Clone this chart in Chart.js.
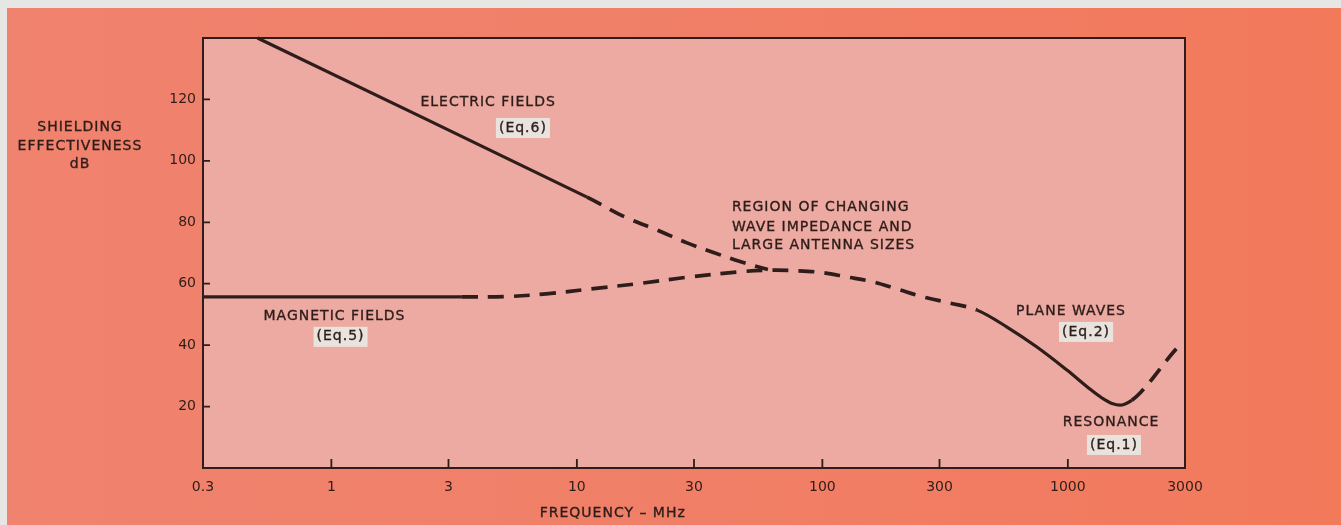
<!DOCTYPE html>
<html>
<head>
<meta charset="utf-8">
<script src="https://cdn.jsdelivr.net/npm/chart.js@4"></script>
<style>
  html, body { margin: 0; padding: 0; background: #e6e6e4; overflow: hidden; }
  #wrap { position: absolute; left: 7px; top: 8px; width: 1334px; height: 517px;
          background: linear-gradient(90deg, #f0836f 0%, #f07f67 50%, #f3795b 100%); }
  canvas { display: block; }
</style>
</head>
<body>
<div id="wrap"><canvas id="c" width="1334" height="517"></canvas></div>
<script>
// ---- tick labels ----
const xTickValues = [0.3, 1, 3, 10, 30, 100, 300, 1000, 3000];
const xTickLabels = ["0.3", "1", "3", "10", "30", "100", "300", "1000", "3000"];
const yTickValues = [20, 40, 60, 80, 100, 120];

// ---- curves (frequency MHz, shielding dB) ----
// electric-field curve: solid up to electricSolidEnd, dashed after
const electricX = [0.5, 11.0, 15.7, 21.2, 28.1, 36.5, 46.2, 60];
const electricY = [140, 88.2, 81.7, 77.5, 73.3, 70.0, 67.2, 64.6];
const electricSolidEnd = 11.0;

// magnetic / transition / plane-wave / resonance curve
const waveX = [0.3, 3.4, 5.1, 7.5, 11.7, 18.1, 28.0, 46.2, 62, 80, 100.5, 126, 159, 201, 257, 331, 427,
               565, 748, 991, 1230, 1377, 1513, 1661, 1825, 1968, 2222, 2535, 2780];
const waveY = [55.7, 55.7, 55.8, 56.7, 58.4, 60.1, 62.1, 63.9, 64.4, 64.2, 63.6, 62.2, 60.7, 58.3, 55.7, 53.7, 51.4,
               45.9, 39.4, 31.9, 25.7, 22.8, 21.0, 20.5, 22.1, 24.4, 29.3, 35.2, 39.1];
// solid frequency ranges of that curve (everything else dashed)
const waveSolidRanges = [[0.3, 3.4], [427, 1825]];

// ---- text annotations ----
const noteTexts = ["ELECTRIC FIELDS", "(Eq.6)", "MAGNETIC FIELDS", "(Eq.5)",
  "REGION OF CHANGING", "WAVE IMPEDANCE AND", "LARGE ANTENNA SIZES",
  "PLANE WAVES", "(Eq.2)", "RESONANCE", "(Eq.1)"];
const noteX = [4.35, 6.03, 1.03, 1.09, 42.8, 42.8, 42.8, 1030, 1186, 1499, 1541];
const noteY = [118.9, 110.7, 49.5, 42.7, 84.7, 78.2, 72.6, 51.1, 44.3, 15.0, 7.5];
const noteAlign = ["center", "center", "center", "center", "left", "left", "left", "center", "center", "center", "center"];
const noteBoxed = [false, true, false, true, false, false, false, false, true, false, true];

const yTitleLines = ["SHIELDING", "EFFECTIVENESS", "dB"];
const xTitle = "FREQUENCY \u2013 MHz";

const INK = "#2e1d1a";
const FONT = "DejaVu Sans";
const DASH = [16, 10];

function pts(xs, ys) { return xs.map((x, i) => ({ x: x, y: ys[i] })); }
function inRanges(x, ranges) { return ranges.some(r => x >= r[0] - 1e-9 && x < r[1] - 1e-9); }

function curve(xs, ys, isSolid) {
  return {
    data: pts(xs, ys),
    borderColor: INK,
    borderWidth: 3.3,
    pointRadius: 0,
    tension: 0.35,
    fill: false,
    clip: 4,
    segment: {
      borderDash: ctx => isSolid(ctx.p0.parsed.x) ? [] : DASH,
      borderWidth: ctx => isSolid(ctx.p0.parsed.x) ? 3.2 : 3.7
    }
  };
}

function drawBoldText(ctx, t, x, y) {
  ctx.fillText(t, x, y);
  ctx.strokeText(t, x, y);
}

const framePlugin = {
  id: 'frame',
  beforeDatasetsDraw(chart) {
    const { ctx, chartArea: a } = chart;
    ctx.save();
    ctx.fillStyle = "#ecaaa2";
    ctx.fillRect(a.left, a.top, a.right - a.left, a.bottom - a.top);
    ctx.restore();
  },
  afterDraw(chart) {
    const { ctx, chartArea: a, scales } = chart;
    ctx.save();
    ctx.strokeStyle = INK;
    ctx.lineWidth = 2;
    ctx.strokeRect(a.left, a.top, a.right - a.left, a.bottom - a.top);
    // inward tick marks
    ctx.lineWidth = 1.8;
    ctx.beginPath();
    xTickValues.forEach(v => {
      const px = scales.x.getPixelForValue(v);
      ctx.moveTo(px, a.bottom); ctx.lineTo(px, a.bottom - 9);
    });
    yTickValues.forEach(v => {
      const py = scales.y.getPixelForValue(v);
      ctx.moveTo(a.left, py); ctx.lineTo(a.left + 7, py);
    });
    ctx.stroke();

    // annotations
    ctx.font = "14px '" + FONT + "'";
    ctx.textBaseline = "middle";
    ctx.lineWidth = 0.35;
    ctx.strokeStyle = INK;
    if ('letterSpacing' in ctx) ctx.letterSpacing = "1px";
    noteTexts.forEach((t, i) => {
      const px = scales.x.getPixelForValue(noteX[i]);
      const py = scales.y.getPixelForValue(noteY[i]);
      const w = ctx.measureText(t).width;
      const left = noteAlign[i] === "left" ? px : px - w / 2;
      if (noteBoxed[i]) {
        ctx.fillStyle = "#e9e3de";
        ctx.fillRect(left - 3, py - 10, w + 6, 20);
      }
      ctx.fillStyle = INK;
      ctx.textAlign = "left";
      drawBoldText(ctx, t, left, py);
    });

    // y-axis title (horizontal, left of axis)
    ctx.textAlign = "center";
    const yt = [119, 138, 156];
    yTitleLines.forEach((t, i) => drawBoldText(ctx, t, 73, yt[i]));

    // x-axis title
    const xtPx = scales.x.getPixelForValue(14);
    drawBoldText(ctx, xTitle, xtPx, 505);
    ctx.restore();
  }
};

new Chart(document.getElementById('c'), {
  type: 'line',
  data: {
    datasets: [
      curve(electricX, electricY, x => x < electricSolidEnd - 1e-9),
      curve(waveX, waveY, x => inRanges(x, waveSolidRanges))
    ]
  },
  options: {
    responsive: false,
    animation: false,
    events: [],
    layout: { padding: { top: 30, right: 156, left: 0, bottom: 0 } },
    plugins: { legend: { display: false }, tooltip: { enabled: false }, title: { display: false } },
    scales: {
      x: {
        type: 'logarithmic',
        min: 0.3, max: 3000,
        afterBuildTicks(s) { s.ticks = xTickValues.map(v => ({ value: v })); },
        afterFit(s) { s.height = 57; },
        grid: { display: false, drawTicks: false },
        border: { display: false },
        ticks: {
          autoSkip: false, maxRotation: 0, padding: 11,
          color: INK, font: { family: FONT, size: 14 },
          callback(v) { const i = xTickValues.indexOf(v); return i >= 0 ? xTickLabels[i] : ''; }
        }
      },
      y: {
        type: 'linear',
        min: 0, max: 140,
        afterBuildTicks(s) { s.ticks = yTickValues.map(v => ({ value: v })); },
        afterFit(s) { s.width = 196; },
        grid: { display: false, drawTicks: false },
        border: { display: false },
        ticks: { padding: 7, color: INK, font: { family: FONT, size: 14 } }
      }
    }
  },
  plugins: [framePlugin]
});
</script>
</body>
</html>
